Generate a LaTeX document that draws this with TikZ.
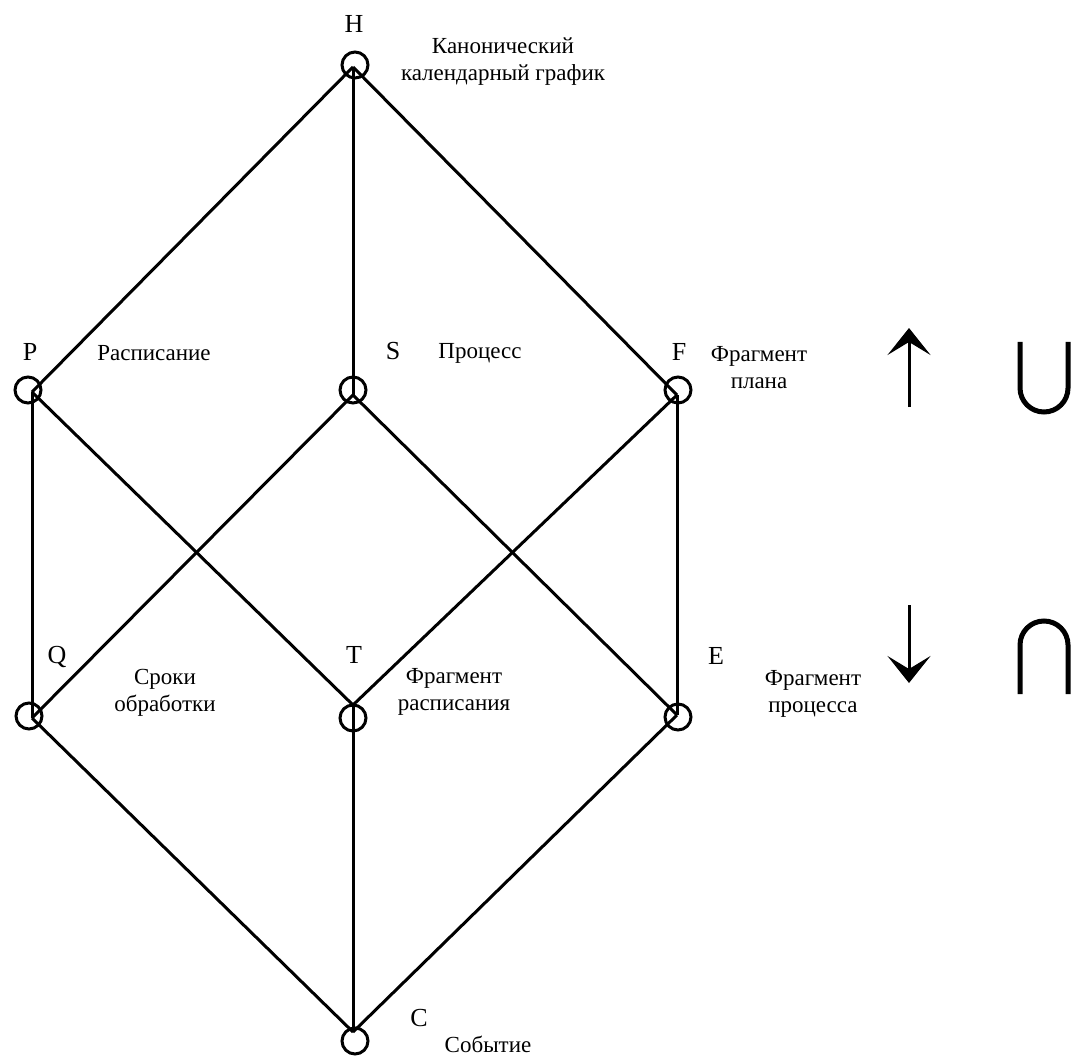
\documentclass[tikz,border=0pt]{standalone}
\usepackage{fontspec}
\setmainfont{Liberation Serif}
\usetikzlibrary{arrows.meta}
\begin{document}
\begin{tikzpicture}[x=1pt,y=-1pt,
  edge/.style={line width=3pt},
  vcirc/.style={circle,draw,line width=3pt,minimum size=26pt,inner sep=0pt},
  letter/.style={font=\fontsize{26}{26}\selectfont,inner sep=0pt},
  lbl/.style={font=\fontsize{23}{27}\selectfont,align=center,inner sep=0pt},
  sym/.style={line width=5pt},
  arr/.style={line width=3pt,-{Stealth[length=27pt,width=43pt,inset=13pt]}}]
\useasboundingbox (0,0) rectangle (1073,1056);
% vertices (where the lines meet)
\coordinate (vH) at (353,67);
\coordinate (vP) at (32,392);
\coordinate (vS) at (353,395);
\coordinate (vF) at (677,395);
\coordinate (vQ) at (32,718);
\coordinate (vT) at (353,705);
\coordinate (vE) at (677,715);
\coordinate (vC) at (353,1032);
% edges
\draw[edge] (vH) -- (vP);
\draw[edge] (vH) -- (vS);
\draw[edge] (vH) -- (vF);
\draw[edge] (vP) -- (vQ);
\draw[edge] (vP) -- (vT);
\draw[edge] (vS) -- (vQ);
\draw[edge] (vS) -- (vE);
\draw[edge] (vF) -- (vT);
\draw[edge] (vF) -- (vE);
\draw[edge] (vQ) -- (vC);
\draw[edge] (vT) -- (vC);
\draw[edge] (vE) -- (vC);
% circles
\node[vcirc] (cH) at (355,65) {};
\node[vcirc] (cP) at (28,390) {};
\node[vcirc] (cS) at (353,390) {};
\node[vcirc] (cF) at (678,390) {};
\node[vcirc] (cQ) at (29,716) {};
\node[vcirc] (cT) at (353,718) {};
\node[vcirc] (cE) at (678,717) {};
\node[vcirc] (cC) at (355,1041) {};
% letters
\node[letter] (lH) at (354,24) {H};
\node[letter] (lP) at (30,352) {P};
\node[letter] (lS) at (393,351) {S};
\node[letter] (lF) at (679,352) {F};
\node[letter] (lQ) at (57,657) {Q};
\node[letter] (lT) at (354,655) {T};
\node[letter] (lE) at (716,656) {E};
\node[letter] (lC) at (419,1018) {C};
% labels
\node[lbl] (tH) at (503,62) {Канонический\\календарный график};
\node[lbl] (tP) at (154,353) {Расписание};
\node[lbl] (tS) at (480,353) {Процесс};
\node[lbl] (tF) at (759,368) {Фрагмент\\плана};
\node[lbl] (tQ) at (165,693) {Сроки\\обработки};
\node[lbl] (tT) at (454,692) {Фрагмент\\расписания};
\node[lbl] (tE) at (813,694) {Фрагмент\\процесса};
\node[lbl] (tC) at (488,1044) {Событие};
% symbols
\coordinate (upS) at (909,407);
\coordinate (upT) at (909,328);
\coordinate (dnS) at (909,605);
\coordinate (dnT) at (909,683);
\draw[arr] (upS) -- (upT);
\draw[arr] (dnS) -- (dnT);
\draw[sym] (1020,342) -- (1020,388) .. controls (1020,401.3) and (1030.7,412) .. (1044,412)
  .. controls (1057.3,412) and (1068,401.3) .. (1068,388) -- (1068,342);
\draw[sym] (1020,694) -- (1020,645) .. controls (1020,631.7) and (1030.7,621) .. (1044,621)
  .. controls (1057.3,621) and (1068,631.7) .. (1068,645) -- (1068,694);
\end{tikzpicture}
\end{document}
